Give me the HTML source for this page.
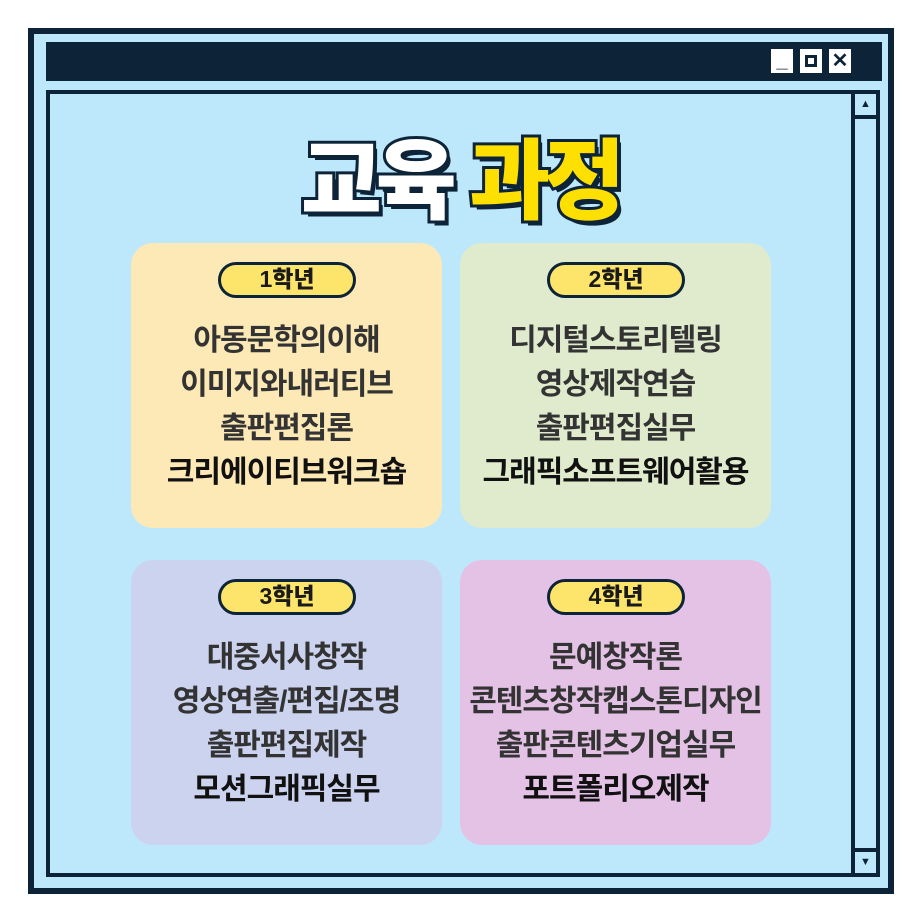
<!DOCTYPE html>
<html><head><meta charset="utf-8"><style>
*{margin:0;padding:0;box-sizing:border-box}
body{width:920px;height:920px;background:#fff;position:relative;overflow:hidden;font-family:"Liberation Sans","Noto Sans CJK KR",sans-serif}
.abs{position:absolute}
.outer{left:28px;top:28px;width:866px;height:866px;border:6px solid #0d2438;background:#bde8fb}
.title{left:46px;top:42px;width:836px;height:39px;background:#0d2438}
.btn{top:47px;width:26px;height:28px;background:#fff;border:2px solid #0d2438;color:#0d2438;font-weight:900;font-size:20px;text-align:center;line-height:24px}
.panel{left:46px;top:90px;width:834px;height:787px;border:4px solid #0d2438;background:#bde8fb}
.sb{left:851px;top:90px;width:29px;height:787px;border:4px solid #0d2438}
.sbb{left:851px;width:29px;height:29px;border:4px solid #0d2438;font-size:11px;color:#0d2438;text-align:center;line-height:21px}
.card{width:311px;height:285px;border-radius:22px}
.pill{width:138px;height:36px;border:3.5px solid #0d2438;border-radius:18px;background:#fde46a;font-weight:900;font-size:23px;text-align:center;line-height:29px;color:#1a1a1a}
.lines{width:311px;text-align:center;font-weight:700;font-size:30px;line-height:44px;color:#333;letter-spacing:-1px}
.lines div:last-child{color:#111}
.h1{left:0;width:920px;top:111px;text-align:center;font-size:88px;font-weight:900;letter-spacing:-6px;
 -webkit-text-stroke:6px #0d2438;paint-order:stroke fill;text-shadow:4px 5px 0 #0d2438}
</style></head><body>
<div class="abs outer"></div>
<div class="abs title"></div>
<div class="abs btn" style="left:769px">_</div>
<div class="abs btn" style="left:798px"><div style="width:12px;height:12px;border:3px solid #0d2438;margin:6px auto"></div></div>
<div class="abs btn" style="left:827px">✕</div>
<div class="abs panel"></div>
<div class="abs sb"></div>
<div class="abs sbb" style="top:90px">▲</div>
<div class="abs sbb" style="top:848px">▼</div>
<div class="abs h1"><span style="color:#fff">교육</span> <span style="color:#fde000">과정</span></div>

<div class="abs card" style="left:131px;top:243px;background:#fde9b6"></div>
<div class="abs card" style="left:460px;top:243px;background:#dfebcc"></div>
<div class="abs card" style="left:131px;top:560px;background:#ccd3ef"></div>
<div class="abs card" style="left:460px;top:560px;background:#e4c2e6"></div>

<div class="abs pill" style="left:218px;top:262px">1학년</div>
<div class="abs pill" style="left:547px;top:262px">2학년</div>
<div class="abs pill" style="left:218px;top:579px">3학년</div>
<div class="abs pill" style="left:547px;top:579px">4학년</div>

<div class="abs lines" style="left:131px;top:319px"><div>아동문학의이해</div><div>이미지와내러티브</div><div>출판편집론</div><div>크리에이티브워크숍</div></div>
<div class="abs lines" style="left:460px;top:319px"><div>디지털스토리텔링</div><div>영상제작연습</div><div>출판편집실무</div><div>그래픽소프트웨어활용</div></div>
<div class="abs lines" style="left:131px;top:636px"><div>대중서사창작</div><div>영상연출/편집/조명</div><div>출판편집제작</div><div>모션그래픽실무</div></div>
<div class="abs lines" style="left:460px;top:636px"><div>문예창작론</div><div>콘텐츠창작캡스톤디자인</div><div>출판콘텐츠기업실무</div><div>포트폴리오제작</div></div>
</body></html>
